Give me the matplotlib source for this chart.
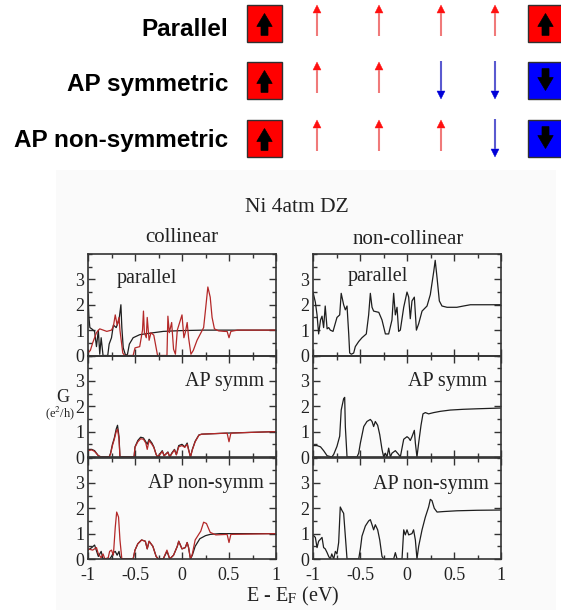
import matplotlib
matplotlib.use('Agg')
import matplotlib.pyplot as plt
from matplotlib.patches import Rectangle, Polygon
from matplotlib.ticker import MultipleLocator, FixedLocator, FixedFormatter

plt.rcParams['font.family'] = ['Liberation Serif', 'DejaVu Serif']
plt.rcParams['mathtext.fontset'] = 'stix'
plt.rcParams['axes.unicode_minus'] = False

# ---------------- top diagram (spin configurations) ----------------
row_labels = ['Parallel', 'AP symmetric', 'AP non-symmetric']
# left electrode, 4 Ni atoms, right electrode (+1 up, -1 down)
row_spins = [[1, 1, 1, 1, 1, 1],
             [1, 1, 1, -1, -1, -1],
             [1, 1, 1, 1, -1, -1]]

# ---------------- conductance data G (e^2/h) vs E - EF (eV) ----------------
# collinear, parallel
col_par_black_x = [-1.00, -0.99, -0.98, -0.96, -0.93, -0.91, -0.89, -0.875, -0.86, -0.84, -0.79, -0.775,
                   -0.75, -0.73, -0.70, -0.67, -0.65, -0.64, -0.625, -0.60, -0.58, -0.56, -0.52, -0.45,
                   -0.34, -0.20, -0.02, 0.23, 1.00]
col_par_black_y = [2.4, 1.5, 1.1, 1.05, 0.95, 0.35, 1.0, 0.05, 0.7, 0.0, 0.0, 0.45,
                   0.7, 1.2, 1.1, 1.4, 2.0, 1.1, 0.3, 0.0, 0.05, 0.45, 0.7, 0.82,
                   0.88, 0.95, 0.98, 1.0, 1.0]
col_par_red_x = [-1.00, -0.975, -0.95, -0.91, -0.875, -0.80, -0.75, -0.73, -0.71, -0.69, -0.67, -0.66,
                 -0.63, -0.61, -0.52, -0.50, -0.45, -0.42, -0.41, -0.40, -0.38, -0.37, -0.35, -0.33,
                 -0.30, -0.26, -0.16, -0.15, -0.135, -0.11, -0.09, -0.07, -0.05, -0.025, 0.00, 0.02,
                 0.035, 0.055, 0.07, 0.095, 0.12, 0.16, 0.23, 0.25, 0.275, 0.30, 0.32, 0.345,
                 0.39, 0.45, 0.48, 0.50, 0.52, 0.59, 1.00]
col_par_red_y = [0.1, 0.2, 0.5, 0.9, 1.05, 0.95, 1.0, 1.15, 1.6, 1.2, 1.5, 1.0,
                 0.1, 0.0, 0.0, 0.3, 0.35, 1.0, 1.75, 0.9, 0.7, 1.5, 0.6, 0.9,
                 0.8, 0.0, 0.0, 1.55, 0.9, 1.3, 0.25, 0.05, 1.0, 1.3, 1.6, 0.7,
                 0.9, 1.3, 0.7, 0.05, 0.2, 0.6, 1.1, 1.8, 2.7, 2.3, 1.5, 1.05,
                 0.97, 0.95, 0.95, 0.7, 0.95, 1.0, 1.0]

# collinear, AP symmetric
col_aps_black_x = [-1.00, -0.96, -0.93, -0.89, -0.86, -0.775, -0.76, -0.74, -0.72, -0.70, -0.686, -0.67,
                   -0.66, -0.51, -0.50, -0.47, -0.44, -0.41, -0.385, -0.37, -0.35, -0.32, -0.30, -0.275,
                   -0.26, -0.23, -0.21, -0.19, -0.15, -0.13, -0.11, -0.08, -0.06, -0.035, 0.00, 0.03,
                   0.055, 0.07, 0.09, 0.11, 0.14, 0.18, 0.21, 0.34, 0.46, 0.73, 1.00]
col_aps_black_y = [0.3, 0.3, 0.25, 0.05, 0.0, 0.0, 0.15, 0.5, 0.75, 1.1, 1.25, 0.8,
                   0.0, 0.0, 0.4, 0.65, 0.78, 0.75, 0.6, 0.5, 0.7, 0.55, 0.4, 0.1,
                   0.0, 0.15, 0.25, 0.05, 0.2, 0.0, 0.15, 0.3, 0.1, 0.45, 0.5, 0.4,
                   0.55, 0.3, 0.0, 0.3, 0.62, 0.87, 0.9, 0.92, 0.94, 0.97, 1.0]
col_aps_red_x = [-1.00, -0.96, -0.93, -0.89, -0.86, -0.775, -0.76, -0.74, -0.72, -0.70, -0.686, -0.67,
                 -0.66, -0.51, -0.50, -0.47, -0.44, -0.41, -0.385, -0.37, -0.35, -0.32, -0.30, -0.275,
                 -0.26, -0.23, -0.21, -0.19, -0.15, -0.13, -0.11, -0.08, -0.06, -0.035, 0.00, 0.03,
                 0.055, 0.07, 0.09, 0.11, 0.14, 0.18, 0.21, 0.34, 0.48, 0.50, 0.52, 0.73, 1.00]
col_aps_red_y = [0.25, 0.28, 0.22, 0.05, 0.0, 0.0, 0.12, 0.45, 0.7, 1.0, 1.1, 0.7,
                 0.0, 0.0, 0.38, 0.6, 0.72, 0.7, 0.55, 0.3, 0.65, 0.5, 0.38, 0.1,
                 0.0, 0.12, 0.22, 0.05, 0.18, 0.0, 0.12, 0.28, 0.08, 0.4, 0.45, 0.38,
                 0.5, 0.28, 0.0, 0.28, 0.6, 0.86, 0.9, 0.92, 0.94, 0.6, 0.94, 0.97, 1.0]

# collinear, AP non-symmetric
col_apn_black_x = [-1.00, -0.96, -0.93, -0.89, -0.86, -0.84, -0.77, -0.75, -0.73, -0.71, -0.69, -0.67,
                   -0.66, -0.64, -0.52, -0.50, -0.47, -0.43, -0.39, -0.37, -0.35, -0.31, -0.275, -0.25,
                   -0.20, -0.16, -0.13, -0.09, -0.05, -0.035, 0.00, 0.035, 0.055, 0.07, 0.09, 0.11,
                   0.14, 0.19, 0.25, 0.30, 0.40, 1.00]
col_apn_black_y = [0.35, 0.45, 0.55, 0.1, 0.3, 0.0, 0.0, 0.1, 0.25, 0.3, 0.15, 0.3,
                   0.1, 0.0, 0.0, 0.35, 0.6, 0.75, 0.7, 0.4, 0.7, 0.5, 0.1, 0.0,
                   0.0, 0.3, 0.0, 0.15, 0.5, 0.7, 0.4, 0.45, 0.65, 0.45, 0.0, 0.15,
                   0.5, 0.8, 0.92, 0.97, 1.0, 1.0]
col_apn_red_x = [-1.00, -0.95, -0.91, -0.89, -0.86, -0.84, -0.82, -0.785, -0.77, -0.75, -0.73, -0.71,
                 -0.695, -0.675, -0.66, -0.64, -0.52, -0.50, -0.47, -0.43, -0.39, -0.37, -0.35, -0.31,
                 -0.275, -0.25, -0.20, -0.16, -0.13, -0.09, -0.05, -0.035, 0.00, 0.035, 0.055, 0.07,
                 0.09, 0.11, 0.14, 0.20, 0.23, 0.26, 0.30, 0.36, 0.48, 0.50, 0.52, 1.00]
col_apn_red_y = [0.4, 0.35, 0.45, 0.2, 0.05, 0.2, 0.0, 0.05, 0.3, 0.35, 0.15, 1.25,
                 1.85, 1.65, 0.75, 0.0, 0.0, 0.35, 0.6, 0.75, 0.7, 0.4, 0.7, 0.5,
                 0.1, 0.0, 0.0, 0.35, 0.0, 0.15, 0.5, 0.7, 0.4, 0.45, 0.65, 0.45,
                 0.0, 0.2, 0.75, 1.1, 1.45, 1.4, 1.05, 0.95, 0.97, 0.65, 0.97, 1.0]

# non-collinear, parallel
nc_par_x = [-1.00, -0.975, -0.957, -0.94, -0.92, -0.904, -0.887, -0.87, -0.85, -0.833, -0.816, -0.787,
            -0.745, -0.716, -0.70, -0.674, -0.656, -0.638, -0.62, -0.61, -0.592, -0.567, -0.55, -0.514,
            -0.479, -0.433, -0.408, -0.39, -0.372, -0.355, -0.30, -0.266, -0.23, -0.195, -0.16, -0.142,
            -0.124, -0.106, -0.089, -0.071, -0.035, 0.00, 0.018, 0.035, 0.053, 0.078, 0.10, 0.124,
            0.16, 0.213, 0.248, 0.284, 0.30, 0.32, 0.344, 0.372, 0.426, 0.53, 0.60, 0.674, 1.00]
nc_par_y = [2.5, 2.1, 1.6, 0.85, 1.4, 1.55, 1.1, 1.95, 1.05, 1.1, 1.0, 0.95,
            1.5, 1.6, 2.45, 2.0, 1.8, 1.95, 0.85, 0.1, 0.05, 0.1, 0.35, 0.55,
            0.7, 0.85, 1.6, 2.45, 1.9, 1.75, 1.7, 1.4, 0.85, 0.85, 1.4, 2.45,
            1.6, 1.9, 0.95, 1.0, 1.9, 2.5, 2.3, 1.45, 2.15, 2.3, 1.0, 1.25,
            1.75, 1.95, 2.4, 3.3, 3.75, 3.05, 2.15, 1.95, 1.9, 1.9, 1.95, 2.0, 2.0]

# non-collinear, AP symmetric
nc_aps_x = [-1.00, -0.957, -0.92, -0.887, -0.85, -0.80, -0.78, -0.745, -0.716, -0.70, -0.674, -0.663,
            -0.656, -0.638, -0.532, -0.514, -0.496, -0.46, -0.426, -0.39, -0.372, -0.355, -0.337, -0.312,
            -0.29, -0.266, -0.248, -0.23, -0.213, -0.195, -0.177, -0.16, -0.124, -0.089, -0.071, -0.053,
            -0.035, 0.00, 0.018, 0.035, 0.053, 0.078, 0.089, 0.106, 0.124, 0.149, 0.17, 0.195,
            0.23, 0.284, 0.355, 0.46, 0.60, 0.745, 1.00]
nc_aps_y = [0.45, 0.45, 0.4, 0.25, 0.05, 0.0, 0.1, 0.42, 0.82, 1.85, 2.3, 2.35,
            1.2, 0.0, 0.0, 0.15, 0.55, 1.2, 1.4, 1.48, 1.4, 1.2, 1.4, 1.25,
            0.88, 0.3, 0.0, 0.15, 0.0, 0.35, 0.0, 0.15, 0.25, 0.1, 0.0, 0.35,
            0.7, 0.8, 0.75, 0.65, 0.8, 1.05, 0.55, 0.0, 0.55, 1.25, 1.7, 1.75,
            1.7, 1.75, 1.8, 1.85, 1.88, 1.9, 1.93]

# non-collinear, AP non-symmetric
nc_apn_x = [-1.00, -0.975, -0.957, -0.94, -0.904, -0.887, -0.87, -0.85, -0.833, -0.816, -0.80, -0.78,
            -0.762, -0.745, -0.727, -0.71, -0.69, -0.674, -0.656, -0.638, -0.514, -0.496, -0.479, -0.443,
            -0.408, -0.39, -0.372, -0.355, -0.337, -0.312, -0.29, -0.266, -0.248, -0.142, -0.124, -0.106,
            -0.053, -0.035, -0.018, 0.00, 0.018, 0.053, 0.07, 0.089, 0.106, 0.124, 0.16, 0.195,
            0.23, 0.248, 0.266, 0.29, 0.32, 0.39, 0.53, 0.745, 1.00]
nc_apn_y = [0.95, 0.85, 0.45, 0.7, 0.85, 0.45, 0.4, 0.25, 0.1, 0.0, 0.2, 0.0,
            0.3, 0.2, 0.65, 2.05, 1.9, 1.8, 0.9, 0.0, 0.0, 0.4, 0.9, 1.3,
            1.5, 1.55, 1.35, 1.15, 1.35, 1.15, 0.75, 0.1, 0.0, 0.0, 0.25, 0.0,
            0.0, 1.15, 0.95, 1.15, 0.95, 1.0, 1.15, 0.75, 0.0, 0.5, 1.15, 1.65,
            2.05, 2.35, 2.3, 2.0, 1.85, 1.87, 1.9, 1.92, 1.93]

x_ticks = [-1, -0.5, 0, 0.5, 1]
x_tick_labels = ['-1', '-0.5', '0', '0.5', '1']
y_ticks = [0, 1, 2, 3]
y_tick_labels = ['0', '1', '2', '3']

col_titles = ['collinear', 'non-collinear']
panel_labels = ['parallel', 'AP symm', 'AP non-symm']

BLACK = '#1e1e1e'
RED = '#b42828'

W, H = 561, 610
fig = plt.figure(figsize=(W / 100, H / 100), dpi=100)
fig.patch.set_facecolor('white')


def fx(x):
    return x / W


def fy(y):
    return 1 - y / H


# background / diagram axes in pixel coordinates
bg = fig.add_axes([0, 0, 1, 1], zorder=0)
bg.set_xlim(0, W)
bg.set_ylim(H, 0)
bg.axis('off')
bg.add_patch(Rectangle((56, 170), 500, 440, facecolor='#fafafa', edgecolor='none'))

sq_tops = [5, 62, 120]
sq_w, sq_h = 35, 37
elec_x = [247, 528]
atom_x = [317, 379, 441, 495]
label_y = [30, 85, 140]


def electrode(x, y, spin):
    fc = '#ff0000' if spin > 0 else '#0000ff'
    bg.add_patch(Rectangle((x, y), sq_w, sq_h, facecolor=fc, edgecolor='#303030', lw=1.0))
    cx = x + sq_w / 2
    s = 1 if spin > 0 else -1
    cy = y + sq_h / 2
    tip = cy - s * 0.27 * sq_h
    base = cy + s * 0.08 * sq_h
    tail = cy + s * 0.32 * sq_h
    hw, sw = 0.22 * sq_w, 0.10 * sq_w
    pts = [(cx, tip), (cx + hw, base), (cx + sw, base), (cx + sw, tail),
           (cx - sw, tail), (cx - sw, base), (cx - hw, base)]
    bg.add_patch(Polygon(pts, closed=True, facecolor='black', edgecolor='black', lw=0.5))


def thin_arrow(x, ytop, spin):
    if spin > 0:
        tip, tail = ytop, ytop + 31
        shaft_c, head_c = '#f07a7a', '#ff1010'
        base = tip + 8
    else:
        tail, tip = ytop - 1, ytop + 37
        shaft_c, head_c = '#5a5ad0', '#0000d8'
        base = tip - 8
    bg.plot([x, x], [tail, base], color=shaft_c, lw=1.5, solid_capstyle='butt')
    bg.add_patch(Polygon([(x, tip), (x - 4, base), (x + 4, base)], closed=True,
                         facecolor=head_c, edgecolor=head_c, lw=0.3))


for i, (lab, spins) in enumerate(zip(row_labels, row_spins)):
    yt = sq_tops[i]
    bg.text(228, label_y[i], lab, ha='right', va='center', fontsize=17.5,
            fontweight='bold', family=['Liberation Sans', 'DejaVu Sans'])
    electrode(elec_x[0], yt, spins[0])
    electrode(elec_x[1], yt, spins[-1])
    for ax_x, sp in zip(atom_x, spins[1:5]):
        thin_arrow(ax_x, yt, sp)

# ---------------- panels ----------------
panel_data = [
    [[(col_par_black_x, col_par_black_y, BLACK), (col_par_red_x, col_par_red_y, RED)],
     [(nc_par_x, nc_par_y, BLACK)]],
    [[(col_aps_black_x, col_aps_black_y, BLACK), (col_aps_red_x, col_aps_red_y, RED)],
     [(nc_aps_x, nc_aps_y, BLACK)]],
    [[(col_apn_black_x, col_apn_black_y, BLACK), (col_apn_red_x, col_apn_red_y, RED)],
     [(nc_apn_x, nc_apn_y, BLACK)]],
]

col_left_px = [88, 313]
col_w_px = 188
row_top_px = [254, 355.5, 457.5]
row_h_px = 101.5

label_pos = [
    [(-0.69, 3.05, 'left'), (-0.63, 3.12, 'left')],
    [(0.87, 2.98, 'right'), (0.855, 2.98, 'right')],
    [(0.87, 2.96, 'right'), (0.875, 2.93, 'right')],
]

for r in range(3):
    for c in range(2):
        left = fx(col_left_px[c])
        bottom = fy(row_top_px[r] + row_h_px)
        ax = fig.add_axes([left, bottom, col_w_px / W, row_h_px / H], zorder=2)
        ax.set_facecolor('none')
        for xs, ys, colr in panel_data[r][c]:
            ax.plot(xs, ys, color=colr, lw=0.9)
        ax.set_xlim(-1, 1)
        ax.set_ylim(0, 4)
        ax.xaxis.set_major_locator(FixedLocator(x_ticks))
        ax.xaxis.set_minor_locator(MultipleLocator(0.25))
        ax.yaxis.set_major_locator(FixedLocator(y_ticks))
        ax.yaxis.set_minor_locator(MultipleLocator(0.5))
        ax.yaxis.set_major_formatter(FixedFormatter(y_tick_labels))
        if r == 2:
            ax.xaxis.set_major_formatter(FixedFormatter(x_tick_labels))
        else:
            ax.set_xticklabels([])
        ax.tick_params(which='both', direction='in', top=True, right=True,
                       colors='#333333', width=1.0, labelsize=13, labelcolor='#222222')
        ax.tick_params(which='major', length=5)
        ax.tick_params(which='minor', length=3)
        ax.tick_params(axis='y', pad=2.5)
        ax.tick_params(axis='x', pad=5.5)
        for sp in ax.spines.values():
            sp.set_linewidth(1.2)
            sp.set_color('#333333')
        lx, ly, ha = label_pos[r][c]
        ax.text(lx, ly, panel_labels[r], ha=ha, va='center', fontsize=14.5, color='#222222')

fig.text(fx(297), fy(208), 'Ni 4atm DZ', ha='center', va='center', fontsize=15.5, color='#222222')
fig.text(fx(182), fy(238), col_titles[0], ha='center', va='center', fontsize=15, color='#222222')
fig.text(fx(408), fy(239), col_titles[1], ha='center', va='center', fontsize=15, color='#222222')
fig.text(fx(63), fy(397), 'G', ha='center', va='center', fontsize=13, color='#222222')
fig.text(fx(60), fy(413), r'(e$^2$/h)', ha='center', va='center', fontsize=9, color='#222222')
fig.text(fx(293), fy(596), r'E - E$_{\rm F}$ (eV)', ha='center', va='center', fontsize=14.5, color='#222222')

fig.savefig('out.png', dpi=100)
